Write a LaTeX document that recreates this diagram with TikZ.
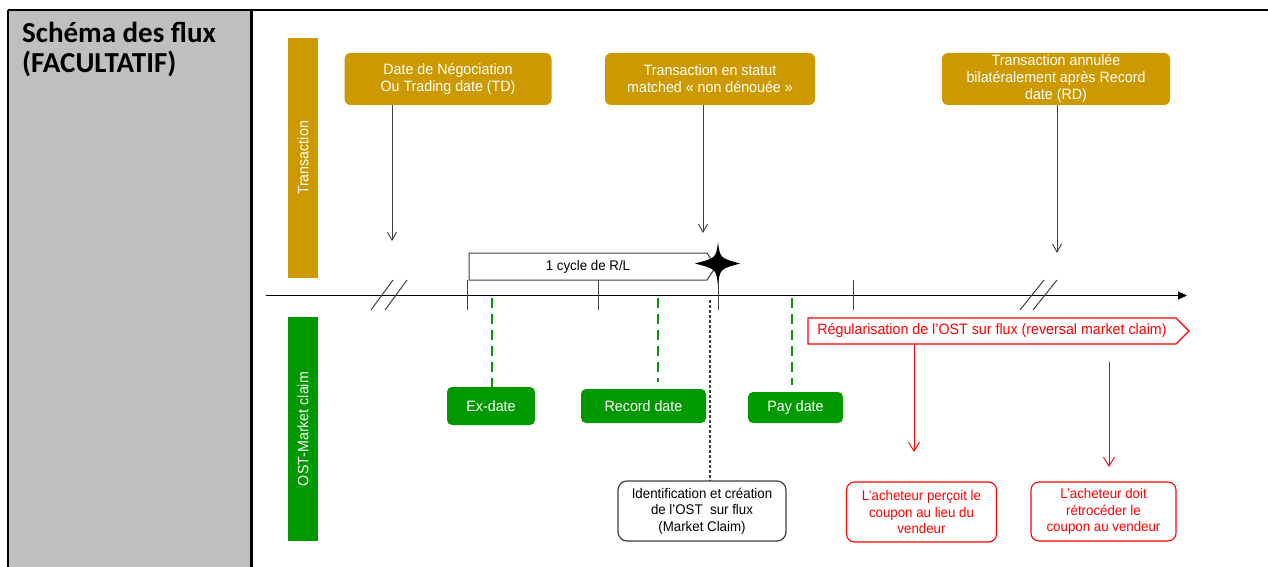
\documentclass[tikz,border=0pt]{standalone}
\usepackage{fontspec}
\setmainfont{Liberation Sans}[FakeStretch=0.95]
\newfontfamily\hdfont{Carlito}
\usetikzlibrary{arrows.meta}
\definecolor{goldc}{HTML}{CC9900}
\definecolor{greenc}{HTML}{009900}
\definecolor{grayc}{HTML}{BFBFBF}
\definecolor{redc}{HTML}{FF0000}
\definecolor{linec}{HTML}{404040}
\begin{document}
\begin{tikzpicture}[x=1pt,y=-1pt,
  goldbox/.style={fill=goldc, rounded corners=6pt, text=white, align=center, inner sep=0pt, font=\fontsize{15}{17}\selectfont},
  greenbox/.style={fill=greenc, rounded corners=5pt, text=white, align=center, inner sep=0pt, font=\fontsize{15}{17}\selectfont},
  redbox/.style={draw=redc, line width=1.1pt, rounded corners=8pt, text=redc, align=center, inner sep=0pt, font=\fontsize{14}{16.5}\selectfont},
  blackbox/.style={draw=linec, line width=1.2pt, rounded corners=9pt, text=black, align=center, inner sep=0pt, font=\fontsize{14}{16.5}\selectfont},
  bar/.style={rotate=90, inner sep=0pt, text=white, font=\fontsize{15}{17}\selectfont},
  arr/.style={draw=linec, line width=0.9pt, -{Straight Barb[length=8pt,width=9pt]}},
  rarr/.style={draw=redc, line width=0.9pt, -{Straight Barb[length=9pt,width=11pt]}},
  gdash/.style={draw=greenc, line width=2.5pt, dash pattern=on 10pt off 6pt},
  gdot/.style={draw=linec, line width=1.2pt, dash pattern=on 3pt off 2pt},
  tick/.style={draw=linec, line width=1pt}]
\useasboundingbox (0,0) rectangle (1268,567);
% table
\fill[grayc] (8,10) rectangle (251,567);
\draw[line width=1.4pt] (8,10) -- (1268,10);
\draw[line width=2pt] (8,10) -- (8,567);
\draw[line width=2.4pt] (251.5,10) -- (251.5,567);
\node[anchor=north west, align=left, inner sep=0pt, font=\hdfont\bfseries\fontsize{29}{30}\selectfont] (hdr) at (22,22) {Schéma des flux\\(FACULTATIF)};
% side bars
\node[bar, fill=goldc, minimum width=240, minimum height=30] (trbar) at (303,158) {Transaction};
\node[bar, fill=greenc, minimum width=224, minimum height=30] (ostbar) at (303,429) {OST-Market claim};
% gold boxes
\node[goldbox, minimum width=207, minimum height=52] (b1) at (448,79) {Date de Négociation\\Ou Trading date (TD)};
\node[goldbox, minimum width=210, minimum height=52] (b2) at (710,79) {Transaction en statut\\matched « non dénouée »};
\node[goldbox, minimum width=228, minimum height=52] (b3) at (1056,79) {Transaction annulée\\bilatéralement après Record\\date (RD)};
\coordinate (t1) at (392,241);
\coordinate (t2) at (703,233);
\coordinate (t3) at (1057,253);
\draw[arr] (b1.south -| t1) -- (t1);
\draw[arr] (b2.south -| t2) -- (t2);
\draw[arr] (b3.south -| t3) -- (t3);
% timeline
\coordinate (tlS) at (266,295.5);
\coordinate (tlE) at (1187,295.5);
\draw[line width=1.1pt, -{Triangle[length=9pt,width=8pt]}] (tlS) -- (tlE);
\foreach \x in {467,598,853} \draw[tick] (\x,280) -- (\x,310);
\draw[tick] (718,263) -- (718,310);
\draw[tick] (371,310) -- (393,280);
\draw[tick] (385,310) -- (407,280);
\draw[tick] (1020,310) -- (1044,280);
\draw[tick] (1033,310) -- (1057,280);
% cycle
\draw[draw=linec, line width=1pt, fill=white] (469,253) -- (707,253) -- (716,266.5) -- (707,280) -- (469,280) -- cycle;
\node[font=\fontsize{14}{16}\selectfont] (cyc) at (588,267) {1 cycle de R/L};
\fill[black] (718,242) .. controls (720,258) .. (740,263.5) .. controls (720,269) .. (718,285) .. controls (716,269) .. (695,263.5) .. controls (716,258) .. cycle;
% green boxes
\node[greenbox, minimum width=88, minimum height=38] (ex) at (491,406) {Ex-date};
\node[greenbox, minimum width=125, minimum height=34] (rec) at (643.5,406) {Record date};
\node[greenbox, minimum width=95, minimum height=31] (pay) at (795.5,407.5) {Pay date};
\coordinate (exT) at (492,298);
\coordinate (recT) at (658,298);
\coordinate (payT) at (792,298);
\draw[gdash] (exT) -- (exT |- ex.north);
\draw[gdash] (recT) -- ([yshift=7pt]recT |- rec.north);
\draw[gdash] (payT) -- ([yshift=7pt]payT |- pay.north);
% identification
\node[blackbox, minimum width=168, minimum height=60] (id) at (702,511) {Identification et création\\de l’OST~ sur flux\\(Market Claim)};
\coordinate (idT) at (710,300);
\draw[gdot] (idT) -- (idT |- id.north);
% regularisation
\draw[draw=redc, line width=1.1pt, fill=white] (808,318) -- (1176,318) -- (1189,331) -- (1176,344) -- (808,344) -- cycle;
\node[text=redc, font=\fontsize{15}{17}\selectfont] (reg) at (992,331) {Régularisation de l’OST sur flux (reversal market claim)};
\node[redbox, minimum width=150, minimum height=60] (a1) at (921.5,512) {L’acheteur perçoit le\\coupon au lieu du\\vendeur};
\node[redbox, minimum width=145, minimum height=59] (a2) at (1103.5,511.5) {L’acheteur doit\\rétrocéder le\\coupon au vendeur};
\coordinate (r1s) at (914,344);
\coordinate (r1e) at (914,452);
\coordinate (r2s) at (1109,362);
\coordinate (r2e) at (1109,467);
\draw[rarr] (r1s) -- (r1e);
\draw[rarr] (r2s) -- (r2e);
\end{tikzpicture}
\end{document}
